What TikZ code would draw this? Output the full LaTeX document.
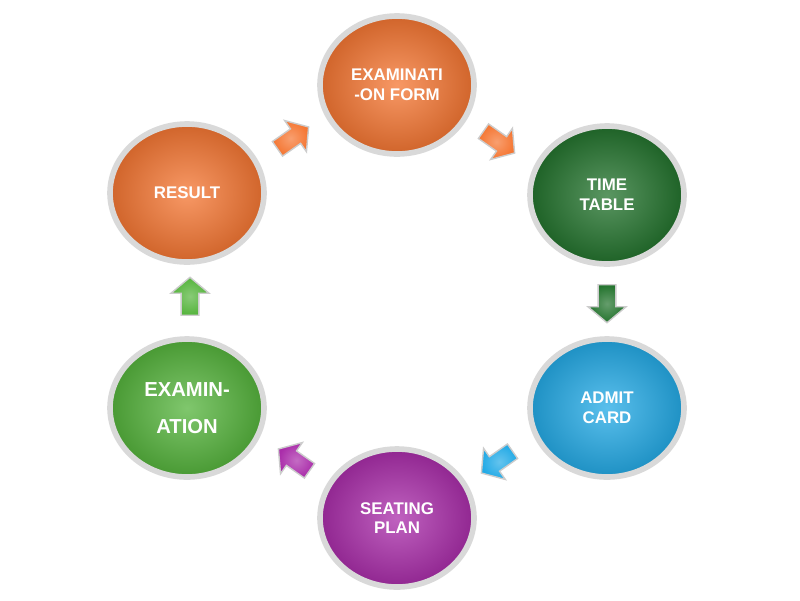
\documentclass[tikz,border=0pt]{standalone}
\usepackage{fontspec}
\setmainfont{Liberation Sans}
\usetikzlibrary{shapes.geometric,shapes.arrows}
\definecolor{orng}{RGB}{245,118,50}
\definecolor{dgreen}{RGB}{35,115,45}
\definecolor{sky}{RGB}{35,170,230}
\definecolor{purp}{RGB}{170,45,170}
\definecolor{lgreen}{RGB}{85,180,60}
\newlength{\pxu}\setlength{\pxu}{0.025cm}
\tikzset{
  stage/.style={ellipse, minimum width=154\pxu, minimum height=138\pxu, inner sep=0pt, draw=gray!30, line width=4pt,
    inner color=#1!75!white, outer color=#1!85!black, text=white, font=\bfseries\large, align=center},
  blk/.style={single arrow, minimum height=38\pxu, minimum width=38\pxu, single arrow head extend=4pt,
    single arrow tip angle=100, inner sep=3pt, draw=gray!40, line width=1pt,
    inner color=#1!70!white, outer color=#1}
}
\begin{document}
\begin{tikzpicture}[x=0.025cm,y=-0.025cm]
  \useasboundingbox (0,0) rectangle (800,600);
  % stages
  \node[stage=orng] (form) at (397,85) {EXAMINATI\\-ON FORM};
  \node[stage=dgreen] (time) at (607,195) {TIME\\TABLE};
  \node[stage=sky] (admit) at (607,408) {ADMIT\\CARD};
  \node[stage=purp] (seat) at (397,518) {SEATING\\PLAN};
  \node[stage=lgreen, font=\bfseries\Large] (exam) at (187,408) {EXAMIN-\\[8pt]ATION};
  \node[stage=orng] (result) at (187,193) {RESULT};
  % arrows between stages
  \node[blk=orng, rotate=-35] (a1) at (496,140) {};
  \node[blk=dgreen, rotate=-90] (a2) at (607,300) {};
  \node[blk=sky, rotate=-145] (a3) at (500,460) {};
  \node[blk=purp, rotate=145] (a4) at (297,462) {};
  \node[blk=lgreen, rotate=90] (a5) at (190,300) {};
  \node[blk=orng, rotate=35] (a6) at (290,140) {};
\end{tikzpicture}
\end{document}
